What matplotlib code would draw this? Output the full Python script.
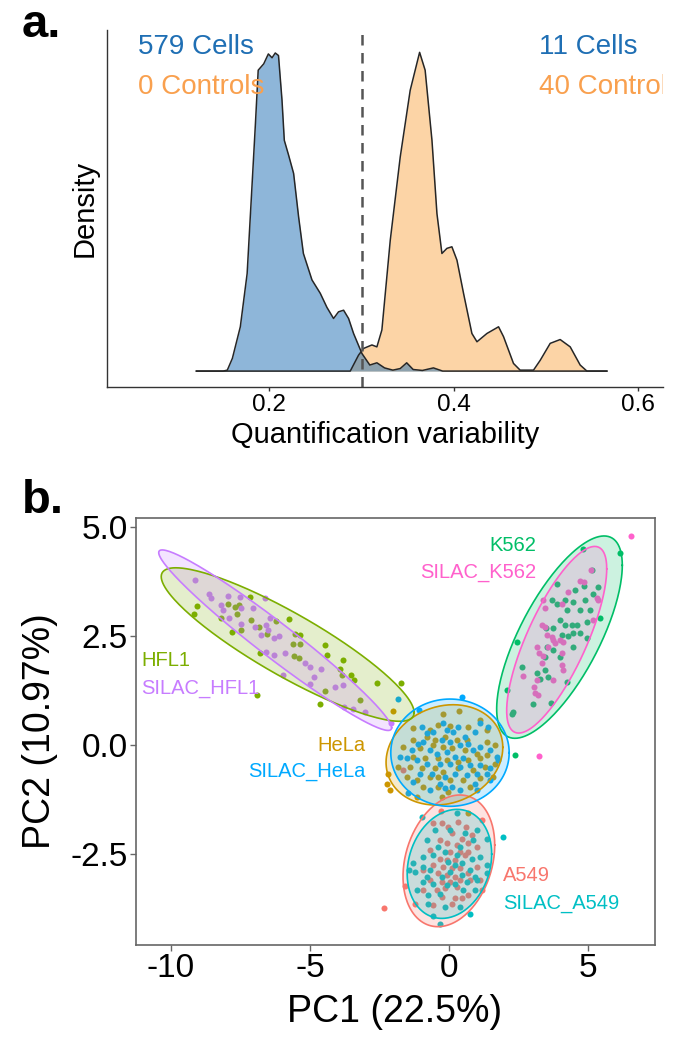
import numpy as np
import matplotlib
matplotlib.use("Agg")
import matplotlib.pyplot as plt

plt.rcParams['font.family'] = ['Liberation Sans', 'DejaVu Sans']
plt.rcParams['axes.unicode_minus'] = False

# ---- panel a: density curves (relative height)
blue_x = [0.121, 0.150, 0.1545, 0.160, 0.1686, 0.176, 0.181, 0.185, 0.188, 0.194, 0.199,
          0.203, 0.2065, 0.210, 0.2138, 0.2163, 0.221, 0.2264, 0.2318, 0.237, 0.2463,
          0.2553, 0.2625, 0.2697, 0.2751, 0.2806, 0.2860, 0.2914, 0.3005, 0.309, 0.3167,
          0.325, 0.334, 0.342, 0.349, 0.356, 0.366, 0.378, 0.388, 0.40, 0.566]
blue_y = [0, 0, 0.003, 0.04, 0.139, 0.306, 0.567, 0.777, 0.944, 0.964, 0.995,
          0.983, 0.998, 0.99, 0.85, 0.724, 0.677, 0.62, 0.484, 0.369, 0.286,
          0.244, 0.2, 0.165, 0.186, 0.191, 0.165, 0.118, 0.055, 0.019, 0.026,
          0.01, 0.003, 0.008, 0.026, 0.005, 0.002, 0.01, 0.0, 0, 0]
orange_x = [0.121, 0.2878, 0.2968, 0.3022, 0.3113, 0.3167, 0.3221, 0.3312, 0.342, 0.3528,
            0.363, 0.369, 0.3764, 0.3818, 0.3872, 0.3926, 0.398, 0.4035, 0.4107, 0.4197,
            0.4252, 0.436, 0.4486, 0.454, 0.4648, 0.472, 0.4865, 0.4938, 0.5046, 0.5154,
            0.5263, 0.5371, 0.5444, 0.566]
orange_y = [0, 0, 0.05, 0.071, 0.082, 0.076, 0.129, 0.411, 0.672, 0.881,
            1.0, 0.944, 0.724, 0.494, 0.369, 0.385, 0.39, 0.348, 0.243, 0.118,
            0.092, 0.118, 0.139, 0.108, 0.024, 0.003, 0.003, 0.034, 0.087, 0.099,
            0.076, 0.019, 0, 0]
cutoff = 0.3

# ---- panel b: PCA scores per group
hfl1_pts = [(-9.16, 3.01), (-9.07, 3.18), (-8.19, 2.92), (-7.96, 3.23), (-7.71, 3.15), (-7.56, 3.2),
            (-7.63, 3.0), (-7.17, 3.39), (-7.8, 2.59), (-7.47, 2.63), (-7.11, 2.86), (-6.84, 2.71),
            (-6.55, 2.55), (-6.21, 2.84), (-5.76, 2.88), (-5.55, 2.55), (-5.37, 2.52), (-5.61, 2.31),
            (-5.35, 2.31), (-6.79, 2.11), (-5.58, 2.04), (-5.4, 2.0), (-4.45, 2.29), (-4.39, 2.06),
            (-3.93, 1.75), (-3.81, 1.94), (-3.83, 1.6), (-3.51, 1.6), (-3.41, 1.48), (-2.58, 1.41),
            (-1.73, 1.41), (-4.45, 1.24), (-3.18, 1.03), (-4.65, 0.93), (-6.91, 1.14)]
silac_hfl1_pts = [(-9.12, 3.79), (-8.64, 3.47), (-8.55, 3.36), (-7.96, 3.41), (-8.19, 3.2), (-8.13, 3.09),
                  (-7.47, 3.13), (-7.05, 3.13), (-6.62, 3.36), (-7.92, 2.92), (-7.47, 2.78), (-6.45, 2.92),
                  (-6.57, 2.75), (-6.75, 2.52), (-6.51, 2.63), (-6.31, 2.44), (-6.12, 2.49), (-5.91, 2.11),
                  (-6.57, 2.13), (-6.31, 2.06), (-5.17, 1.87), (-4.99, 1.79), (-4.59, 1.73), (-4.87, 1.56),
                  (-5.01, 1.39), (-5.97, 1.61), (-4.11, 1.33), (-3.81, 1.37), (-3.79, 0.87), (-3.03, 0.76),
                  (-3.45, 0.83), (-2.07, 0.5), (-7.5, 3.4), (-6.96, 2.7)]
k562_pts = [(4.84, 4.48), (6.14, 4.4), (5.14, 4.02), (3.88, 3.69), (4.54, 3.56), (4.87, 3.64),
            (5.38, 3.61), (5.18, 3.47), (3.7, 3.33), (3.88, 3.24), (4.18, 3.33), (4.48, 3.28),
            (4.9, 3.33), (4.24, 3.09), (4.72, 3.1), (5.08, 3.09), (5.44, 2.9), (4.0, 2.86),
            (4.18, 2.75), (4.42, 2.75), (4.6, 2.75), (4.96, 2.82), (3.5, 2.67), (3.74, 2.67),
            (4.06, 2.52), (4.3, 2.49), (4.48, 2.57), (4.72, 2.57), (4.96, 2.44), (4.48, 2.25),
            (3.52, 2.25), (3.76, 2.17), (3.46, 2.02), (3.16, 1.64), (3.28, 1.52), (3.46, 1.71),
            (3.58, 1.56), (2.62, 1.79), (2.44, 2.36), (2.08, 1.25), (3.04, 0.93), (3.67, 0.97),
            (2.3, 0.76), (2.26, 0.7), (4.24, 1.44), (2.38, -0.24), (4.0, 2.02)]
silac_k562_pts = [(6.55, 4.79), (5.11, 4.02), (4.72, 3.76), (4.87, 3.74), (4.3, 3.51), (4.06, 3.23),
                  (3.4, 3.33), (5.32, 3.36), (5.38, 3.32), (3.46, 3.13), (3.34, 2.75), (3.46, 2.71),
                  (5.2, 2.86), (3.76, 2.4), (4.0, 2.4), (3.82, 2.33), (4.1, 2.36), (3.58, 2.25),
                  (3.16, 2.25), (3.26, 2.1), (3.4, 2.03), (4.06, 2.1), (3.34, 1.87), (4.06, 1.83),
                  (4.1, 1.71), (2.68, 1.58), (3.16, 1.48), (3.74, 1.48), (3.08, 1.33), (3.1, 1.18),
                  (3.22, 1.14), (3.26, -0.26), (3.7, 2.48), (3.52, 2.52)]
hela_pts = [(0.37, 0.77), (-0.2, 0.7), (1.12, 0.57), (-1.29, 0.38), (-0.68, 0.34), (-0.39, 0.45),
            (0.04, 0.43), (0.7, 0.41), (1.36, 0.34), (-0.8, 0.18), (-0.5, 0.11), (-0.14, 0.18),
            (0.28, 0.11), (0.64, 0.11), (-1.29, 0.11), (1.36, 0.07), (1.66, -0.01), (-1.65, -0.05),
            (-1.05, -0.08), (-0.57, -0.01), (-0.2, -0.05), (0.1, -0.08), (0.58, -0.12), (1.0, -0.2),
            (1.36, -0.24), (-1.29, -0.28), (-0.87, -0.31), (-0.39, -0.31), (-0.08, -0.35), (0.34, -0.39),
            (0.7, -0.35), (1.12, -0.31), (1.66, -0.43), (-1.83, -0.5), (-1.41, -0.5), (-0.98, -0.54),
            (-0.5, -0.54), (-0.2, -0.62), (0.34, -0.54), (0.88, -0.58), (1.3, -0.5), (-1.52, -0.73),
            (-1.16, -0.81), (-0.68, -0.73), (-0.39, -0.73), (0.04, -0.81), (0.52, -0.81), (1.12, -0.77),
            (1.6, -0.73), (-0.93, -0.96), (-0.39, -0.96), (-0.02, -1.08), (0.76, -0.96), (-2.19, -0.66),
            (-2.22, -0.89), (-2.13, -1.04), (-1.16, -1.19), (-0.26, -1.19), (-2.0, 0.78), (0.7, -1.57)]
silac_hela_pts = [(0.46, 1.09), (-1.07, 0.81), (-0.2, 0.49), (-0.98, 0.41), (0.34, 0.41), (1.12, 0.49),
                  (1.42, 0.41), (-0.8, 0.28), (-0.57, 0.3), (-0.08, 0.34), (0.16, 0.3), (0.58, 0.18),
                  (0.94, 0.3), (-1.1, 0.03), (-0.93, 0.07), (-0.26, 0.11), (0.04, 0.07), (0.4, -0.01),
                  (0.7, 0.03), (0.88, -0.12), (1.12, -0.05), (-1.34, -0.12), (-0.68, -0.12), (-0.44, -0.2),
                  (-0.08, -0.16), (0.22, -0.28), (0.52, -0.31), (1.48, -0.12), (1.72, -0.28), (-1.77, -0.28),
                  (-1.52, -0.31), (-1.16, -0.35), (-0.8, -0.43), (-0.32, -0.43), (0.04, -0.43), (0.4, -0.5),
                  (0.76, -0.47), (1.12, -0.47), (1.48, -0.54), (1.78, -0.35), (-1.05, -0.66), (-0.62, -0.66),
                  (-0.14, -0.73), (0.22, -0.66), (0.64, -0.7), (1.0, -0.66), (1.36, -0.66), (-1.29, -0.85),
                  (-0.32, -0.89), (0.1, -0.96), (0.94, -0.89), (1.48, -0.81), (-0.68, -1.04), (-0.14, -1.0),
                  (0.4, -1.04), (1.0, -1.04), (-1.47, -1.11), (-1.82, 1.05)]
a549_pts = [(-0.3, -1.51), (-0.57, -1.8), (-0.26, -1.8), (-0.02, -1.88), (0.34, -1.76), (0.61, -1.88),
            (1.18, -1.73), (0.1, -2.03), (0.46, -2.15), (0.82, -2.07), (-0.32, -2.18), (-0.08, -2.26),
            (0.28, -2.3), (0.7, -2.26), (1.0, -2.34), (-0.68, -2.41), (0.04, -2.45), (0.4, -2.45),
            (0.7, -2.45), (-0.32, -2.61), (-0.08, -2.64), (0.22, -2.64), (0.58, -2.53), (-0.57, -2.76),
            (-0.2, -2.8), (0.1, -2.83), (0.4, -2.83), (1.0, -2.8), (-0.93, -2.87), (-0.39, -2.95),
            (-0.08, -2.99), (0.22, -3.03), (0.7, -2.95), (-0.68, -3.1), (-0.26, -3.14), (0.04, -3.14),
            (0.4, -3.1), (0.76, -3.1), (1.12, -3.1), (-0.93, -3.33), (-0.44, -3.33), (-0.14, -3.29),
            (0.28, -3.26), (-0.26, -3.49), (0.22, -3.52), (0.46, -3.52), (0.7, -3.45), (-0.57, -3.68),
            (0.1, -3.64), (-1.59, -3.24), (-1.23, -3.64), (-2.34, -3.74), (1.18, -3.33), (-1.65, -0.58)]
silac_a549_pts = [(-0.98, -1.65), (1.96, -2.11), (0.28, -1.57), (-0.5, -1.96), (0.04, -1.96), (0.58, -2.03),
                  (1.0, -1.96), (1.36, -2.15), (-0.8, -2.18), (-0.39, -2.34), (0.4, -2.34), (0.88, -2.18),
                  (-0.93, -2.57), (-0.57, -2.53), (-0.14, -2.45), (0.28, -2.53), (0.82, -2.61), (1.12, -2.57),
                  (-1.29, -2.72), (-0.93, -2.8), (-0.68, -2.87), (-0.02, -2.68), (0.22, -2.76), (0.46, -2.72),
                  (0.76, -2.87), (1.36, -2.76), (-1.23, -2.91), (-0.8, -3.03), (-0.26, -3.03), (0.04, -2.91),
                  (0.46, -2.99), (0.94, -3.03), (1.36, -2.95), (-0.93, -3.14), (-0.57, -3.18), (-0.08, -3.22),
                  (0.22, -3.18), (0.64, -3.14), (1.0, -3.1), (-1.16, -3.33), (-0.75, -3.45), (-0.32, -3.41),
                  (0.52, -3.33), (0.94, -3.33), (-0.75, -3.64), (-0.14, -3.71), (0.4, -3.71), (0.76, -3.87),
                  (-0.57, -3.93), (-0.32, -4.1), (-1.43, -2.87)]

groups = ['A549', 'HeLa', 'HFL1', 'K562', 'SILAC_A549', 'SILAC_HeLa', 'SILAC_HFL1', 'SILAC_K562']
group_pts = [a549_pts, hela_pts, hfl1_pts, k562_pts, silac_a549_pts, silac_hela_pts, silac_hfl1_pts, silac_k562_pts]
colors = ['#F8766D', '#CD9600', '#7CAE00', '#00BE67', '#00BFC4', '#00A9FF', '#C77CFF', '#FF61CC']
# ellipse: centre x, centre y, half x-extent, half y-extent, correlation
ell_cx = [0.0, -0.16, -5.8, 3.98, 0.02, 0.04, -6.25, 3.88]
ell_cy = [-2.66, -0.23, 2.3, 2.47, -2.73, -0.18, 2.4, 2.41]
ell_hw = [1.65, 2.1, 4.55, 2.26, 1.52, 2.13, 4.19, 1.8]
ell_hh = [1.51, 1.15, 1.76, 2.32, 1.25, 1.23, 2.07, 2.14]
ell_r = [0.24, 0.15, -0.885, 0.71, 0.18, 0.0, -0.97, 0.76]
# group label positions
lab_x = [1.94, -3.0, -11.07, 3.14, 1.94, -3.0, -11.07, 3.14]
lab_y = [-2.99, -0.02, 1.94, 4.58, -3.64, -0.6, 1.29, 3.95]
lab_ha = ['left', 'right', 'left', 'right', 'left', 'right', 'left', 'right']


def ellipse_xy(cx, cy, hw, hh, r, n=240):
    t = np.linspace(0, 2 * np.pi, n)
    x = cx + hw * np.cos(t)
    y = cy + r * hh * np.cos(t) + hh * np.sqrt(1 - r * r) * np.sin(t)
    return x, y


fig = plt.figure(figsize=(6.9, 10.5), dpi=100)

# ---------------- panel a
ax1 = fig.add_axes([0.155, 0.6314, 0.806, 0.34])
ax1.fill_between(orange_x, orange_y, color='#FBAA4F', alpha=0.5, lw=0)
ax1.fill_between(blue_x, blue_y, color='#1F6FB4', alpha=0.5, lw=0)
ax1.plot(orange_x, orange_y, color='#262626', lw=1.1, solid_joinstyle='round')
ax1.plot(blue_x, blue_y, color='#262626', lw=1.1, solid_joinstyle='round')
ax1.axvline(cutoff, color='#555555', lw=1.8, linestyle=(0, (4.2, 3.0)))
ax1.set_xlim(0.024, 0.627)
ax1.set_ylim(-0.05, 1.07)
for s in ['top', 'right']:
    ax1.spines[s].set_visible(False)
for s in ['left', 'bottom']:
    ax1.spines[s].set_color('#333333')
    ax1.spines[s].set_linewidth(1.0)
ax1.set_yticks([])
ax1.set_xticks([0.2, 0.4, 0.6])
ax1.set_xticklabels(['0.2', '0.4', '0.6'])
ax1.tick_params(axis='x', labelsize=17.5, length=3, width=1, color='#333333', pad=2)
ax1.text(0.058, 1.016, '579 Cells', color='#1F6FB4', fontsize=20, ha='left', va='center')
ax1.text(0.058, 0.89, '0 Controls', color='#F9A04E', fontsize=20, ha='left', va='center')
ax1.text(0.492, 1.016, '11 Cells', color='#1F6FB4', fontsize=20, ha='left', va='center')
ax1.text(0.492, 0.89, '40 Controls', color='#F9A04E', fontsize=20, ha='left', va='center',
         clip_on=True)
fig.text(385 / 690, 1 - 435 / 1050, 'Quantification variability', fontsize=21, ha='center', va='center')
fig.text(85 / 690, 1 - 208 / 1050, 'Density', fontsize=21, rotation=90, ha='center', va='center')
fig.text(22 / 690, 1 - 37 / 1050, 'a.', fontsize=34, fontweight='bold', ha='left', va='baseline')

# ---------------- panel b
ax2 = fig.add_axes([0.197, 0.100, 0.752, 0.407])
for pts, c in zip(group_pts, colors):
    px = [p[0] for p in pts]
    py = [p[1] for p in pts]
    ax2.scatter(px, py, s=19, color=c, linewidths=0, zorder=2)
for i, c in enumerate(colors):
    ex, ey = ellipse_xy(ell_cx[i], ell_cy[i], ell_hw[i], ell_hh[i], ell_r[i])
    ax2.fill(ex, ey, color=c, alpha=0.2, lw=0, zorder=3)
    ax2.plot(ex, ey, color=c, lw=1.2, zorder=4)
for i, g in enumerate(groups):
    ax2.text(lab_x[i], lab_y[i], g, color=colors[i], fontsize=14.5, ha=lab_ha[i], va='center', zorder=5)
ax2.set_xlim(-11.26, 7.41)
ax2.set_ylim(-4.59, 5.21)
ax2.set_xticks([-10, -5, 0, 5])
ax2.set_xticklabels(['-10', '-5', '0', '5'])
ax2.set_yticks([-2.5, 0, 2.5, 5.0])
ax2.set_yticklabels(['-2.5', '0.0', '2.5', '5.0'])
for s in ax2.spines.values():
    s.set_color('#666666')
    s.set_linewidth(1.2)
ax2.tick_params(labelsize=24, length=4, width=1, color='#666666', pad=2)
fig.text(395 / 690, 1 - 1012 / 1050, 'PC1 (22.5%)', fontsize=27, ha='center', va='center')
fig.text(40 / 690, 1 - 731 / 1050, 'PC2 (10.97%)', fontsize=27, rotation=90, ha='center', va='center')
fig.text(22 / 690, 1 - 513 / 1050, 'b.', fontsize=34, fontweight='bold', ha='left', va='baseline')

fig.savefig('out.png', dpi=100)
